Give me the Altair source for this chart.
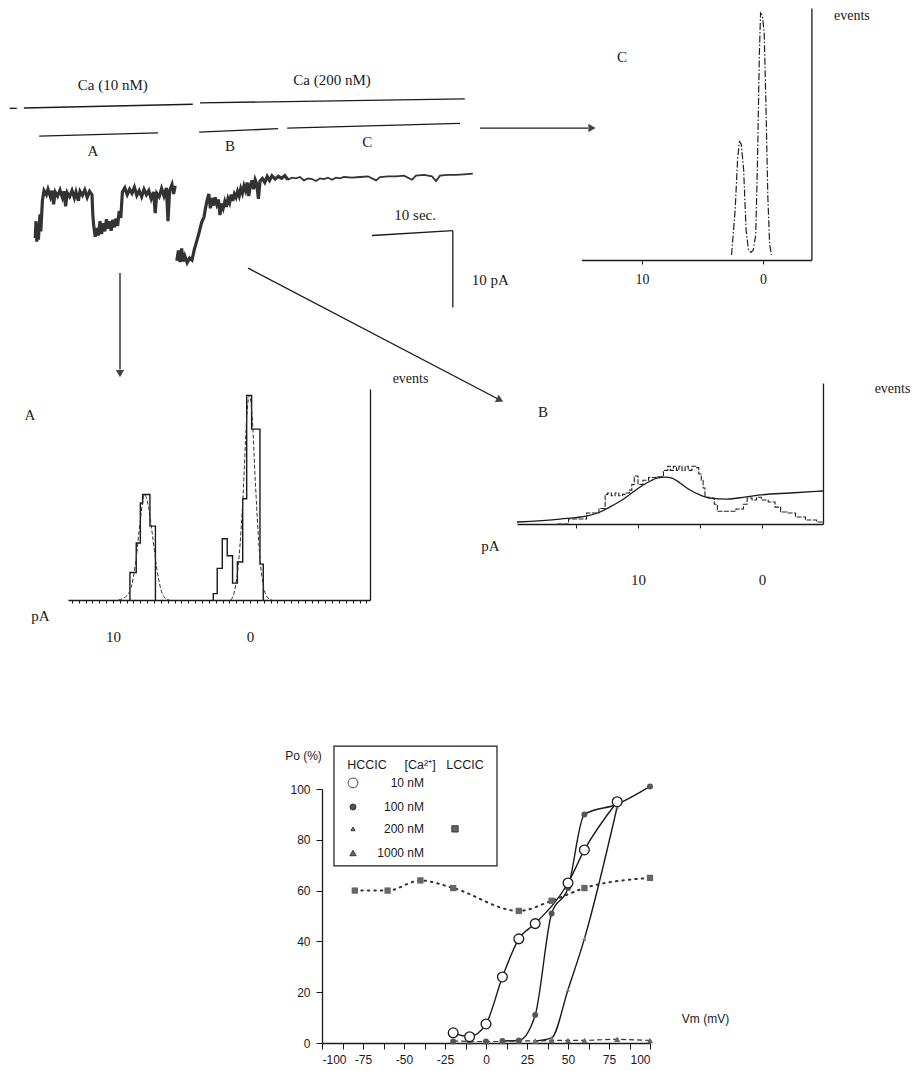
import altair as alt
import pandas as pd

# ---------------- data ----------------
# current trace, segment A (time s, current pA)
trA_t = [1.4, 1.5, 1.6, 1.7, 1.8, 2.0, 2.1, 2.3, 2.5, 2.8, 3.0, 3.3, 3.5, 3.7, 3.9, 4.2, 4.5, 4.8, 5.0, 5.2,
         5.4, 5.7, 6.0, 6.3, 6.5, 6.8, 7.0, 7.3, 7.6, 7.9, 8.2, 8.5, 8.6, 8.7, 8.9, 9.1, 9.3, 9.5, 9.7, 9.9,
         10.1, 10.3, 10.5, 10.7, 10.9, 11.1, 11.3, 11.5, 11.7, 11.9, 12.1, 12.3, 12.6, 12.9, 13.2, 13.5, 13.8,
         14.1, 14.4, 14.7, 15.0, 15.3, 15.6, 15.9, 16.2, 16.4, 16.6, 16.9, 17.2, 17.5, 17.8, 18.0, 18.2, 18.5,
         18.7, 18.9]
trA_i = [-9.0, -6.5, -9.5, -7.0, -9.2, -5.5, -8.0, -3.5, -2.0, -2.6, -1.8, -2.9, -2.0, -4.0, -2.2, -2.8, -1.9,
         -3.0, -2.1, -4.3, -2.3, -2.9, -2.0, -3.1, -2.2, -3.5, -2.1, -2.7, -1.9, -3.0, -2.1, -2.6, -5.5, -7.0,
         -8.8, -7.5, -8.6, -6.5, -8.4, -6.8, -8.0, -6.2, -7.6, -6.5, -7.9, -6.3, -7.4, -6.1, -7.2, -5.0, -6.0,
         -2.2, -1.6, -2.6, -1.8, -2.4, -1.5, -2.7, -2.0, -2.9, -1.8, -2.6, -2.0, -3.2, -2.2, -5.3, -2.4, -2.9,
         -1.7, -2.8, -1.6, -6.5, -2.0, -1.1, -2.5, -1.3]
# segment B, noisy rising part
trB_t = [19.1, 19.3, 19.5, 19.7, 19.9, 20.1, 20.4, 20.7, 21.0, 21.3, 21.6, 21.9, 22.2, 22.5, 22.7, 22.9, 23.1,
         23.3, 23.5, 23.7, 23.9, 24.1, 24.3, 24.5, 24.7, 24.9, 25.1, 25.3, 25.5, 25.7, 25.9, 26.1, 26.3, 26.5,
         26.7, 26.9, 27.1, 27.3, 27.5, 27.7, 27.9, 28.1, 28.3, 28.5, 28.7, 28.9, 29.1, 29.3, 29.5, 29.8, 30.1,
         30.4, 30.7, 31.0, 31.4, 31.8, 32.2, 32.6, 33.0]
trB_i = [-12.3, -10.8, -12.5, -10.5, -12.4, -11.6, -12.6, -11.9, -12.2, -10.6, -9.4, -8.1, -6.7, -5.9, -4.5,
         -3.4, -2.5, -4.6, -3.1, -4.2, -3.0, -4.0, -3.3, -5.6, -3.9, -4.6, -3.6, -4.4, -3.2, -3.8, -2.6, -3.5,
         -2.5, -3.0, -2.1, -2.8, -1.7, -2.4, -1.3, -2.0, -0.8, -2.8, -1.2, -0.5, -1.8, -0.4, -1.0, -3.2, -0.6,
         -0.2, -0.8, 0.1, -0.5, 0.2, -0.3, 0.1, -0.2, 0.2, -0.4]
# segment B/C, flat open part
trC_t = [33.0, 33.5, 34.0, 34.5, 35.0, 35.5, 36.0, 36.5, 37.0, 37.5, 38.0, 38.5, 39.0, 39.5, 40.0, 41.0, 42.0,
         43.0, 44.0, 44.5, 45.5, 46.5, 47.5, 48.5, 49.0, 50.0, 51.0, 51.5, 52.0, 53.0, 54.0, 55.0, 56.1]
trC_i = [-0.4, -0.1, -0.2, 0.0, -0.5, -0.2, -0.3, -0.6, -0.2, -0.3, -0.1, -0.4, -0.1, -0.2, 0.0, -0.1, 0.0,
         0.1, -0.5, 0.0, 0.1, 0.1, 0.2, -0.4, 0.2, 0.3, 0.1, -0.6, 0.2, 0.3, 0.3, 0.4, 0.5]

# condition bars, scale bars and arrows of the trace panel (t1, t2, i1, i2)
seg_t1 = [0.0, 22.0, 1.9, 21.9, 32.9, 43.5, 53.6, 12.0, 28.0, 57.0, -1.8]
seg_t2 = [21.1, 55.1, 16.75, 31.75, 54.5, 53.6, 53.6, 12.0, 59.5, 70.5, -0.9]
seg_i1 = [10.15, 10.9, 6.0, 6.6, 7.2, -8.6, -7.9, -14.1, -13.4, 7.2, 10.1]
seg_i2 = [10.7, 11.5, 6.5, 7.1, 7.9, -7.9, -19.2, -28.3, -32.8, 7.2, 10.1]
head_t = [12.0, 59.5, 71.0]
head_i = [-28.9, -32.8, 7.2]
head_shape = ["triangle-down", "triangle-right", "triangle-right"]
head_angle = [0, 27.6, 0]
trace_labels = ["Ca (10 nM)", "Ca (200 nM)", "A", "B", "C", "10 sec.", "10 pA"]
trace_lab_t = [11.1, 38.5, 8.6, 25.75, 42.9, 48.9, 58.3]
trace_lab_i = [13.5, 14.3, 3.8, 4.6, 5.1, -5.6, -15.1]

# histogram A (pA, events)
hA_edges = [8.76, 8.3, 8.0, 7.83, 7.3, 6.9]
hA_heights = [13, 27, 46, 50, 35]
hA2_edges = [2.68, 2.39, 2.02, 1.66, 1.27, 0.92, 0.53, 0.24, -0.12, -0.73, -0.97]
hA2_heights = [3, 15, 29, 21, 8, 18, 48, 97, 81, 17]
fitA1_i = [9.6, 9.0, 8.6, 8.3, 8.0, 7.7, 7.4, 7.1, 6.8, 6.5, 6.2, 5.9]
fitA1_e = [0, 2, 8, 20, 38, 50, 44, 30, 15, 5, 1, 0]
fitA2_i = [1.4, 1.1, 0.8, 0.5, 0.25, 0.05, -0.15, -0.4, -0.7, -1.0, -1.3, -1.6]
fitA2_e = [0, 5, 20, 50, 85, 97, 88, 55, 22, 6, 1, 0]

# histogram B (pA, events)
hB_i = [16.5, 14.7, 13.6, 12.7, 12.6, 12.3, 12.0, 11.7, 11.4, 11.1, 10.8, 10.6, 10.4, 10.2, 9.8, 9.4, 8.9, 8.2,
        7.7, 7.5, 7.3, 7.0, 6.8, 6.6, 6.3, 6.1, 5.8, 5.5, 5.2, 5.0, 4.8, 4.7, 4.5, 4.0, 3.7, 3.5, 2.6, 1.6, 1.4,
        1.0, 0.6, 0.3, -0.2, -0.8, -1.3, -1.7, -2.3, -3.1, -3.9, -4.9]
hB_e = [0, 3.5, 7.8, 11, 21, 22, 20, 22, 20, 21, 22, 24, 28, 34, 28, 31, 33, 33.5,
        38, 41, 38, 41, 38, 41, 38, 41, 38, 41, 40, 35.5, 31, 25.5, 19, 18.4, 14, 9, 9, 10.6, 14,
        18.4, 17, 19, 17, 15.6, 12, 8.5, 7.8, 5, 2.8, 1.4]
fitB_i = [19.76, 16.29, 14.11, 13.06, 12.26, 11.29, 10.4, 9.44, 8.47, 7.82, 7.26, 6.61, 5.81, 5.0, 4.19,
          2.82, 1.37, 0.16, -2.26, -4.92]
fitB_e = [1.4, 3.5, 5.7, 8.5, 12.1, 17, 22.7, 28.4, 32.6, 33.3, 32.6, 29.1, 24.1, 20.6, 18.4, 17.7, 19.1,
          20.6, 22, 23.4]

# histogram C (pA, events)
hC_i = [2.6, 2.3, 2.1, 1.95, 1.8, 1.6, 1.4, 1.2, 1.0, 0.8, 0.6, 0.45, 0.3, 0.2, 0.05, -0.1, -0.25, -0.4,
        -0.55, -0.7]
hC_e = [2, 20, 40, 47, 46, 36, 12, 4, 3, 4, 10, 40, 82, 98, 97, 90, 60, 25, 6, 2]

# open probability vs voltage
vm10 = [-20, -10, 0, 10, 20, 30, 50, 60, 80]
po10 = [4, 2.5, 7.5, 26, 41, 47, 63, 76, 95]
vm100 = [-20, -10, 0, 10, 20, 30, 40, 50, 60, 80, 100]
po100 = [0.6, 0.6, 0.6, 0.8, 1, 11, 51, 61, 90, 94, 101]
vm200 = [30, 40, 50, 60, 80]
po200 = [0.8, 2, 21, 41, 93]
vm1000 = [-20, -10, 0, 10, 20, 30, 40, 50, 60, 80, 100]
po1000 = [0.8, 0.6, 0.6, 0.6, 0.8, 0.8, 1, 1, 1, 1.5, 1]
vmL = [-80, -60, -40, -20, 20, 40, 60, 100]
poL = [60, 60, 64, 61, 52, 56, 61, 65]

legend_rows = ["10 nM", "100 nM", "200 nM", "1000 nM"]
legend_row_po = [102.4, 92.9, 84.3, 74.8]
legend_head = ["HCCIC", "[Ca²⁺]", "LCCIC"]
legend_head_vm = [-72.6, -40.2, -12.8]

# ---------------- helpers ----------------
SERIF = "Liberation Serif"
SANS = "Liberation Sans"
INK = "#1a1a1a"
H = 1063


def sc(dom, rng):
    return alt.Scale(domain=dom, range=rng, nice=False, zero=False)


# panel scales (plot-area pixel ranges)
TX, TY = sc([0, 100], [16, 816]), sc([-18, 26], [291.4, -7.8])
AX, AY = sc([13.28, -8.76], [60, 362]), sc([0, 100], [592, 381])
BX, BY = sc([19.76, -4.92], [509, 815]), sc([0, 100], [516, 375])
CX, CY = sc([15.0, -4.0], [573.5, 803.4]), sc([0, 100], [252, 0])
PX, PY = sc([-100, 100], [314, 642]), sc([0, 100], [1035, 781])


def ordered(xs, ys):
    return pd.DataFrame({"x": xs, "y": ys, "o": list(range(len(xs)))})


def steps(edges, heights):
    xs, ys = [edges[0]], [0]
    for k, h in enumerate(heights):
        xs += [edges[k], edges[k + 1]]
        ys += [h, h]
    xs.append(edges[-1])
    ys.append(0)
    return ordered(xs, ys)


def line(df, XS, YS, xaxis=None, yaxis=None, **mk):
    return alt.Chart(df).mark_line(**mk).encode(
        x=alt.X("x:Q", scale=XS, axis=xaxis),
        y=alt.Y("y:Q", scale=YS, axis=yaxis),
        order="o:Q",
    )


def texts(labels, xs, ys, XS, YS, **mk):
    df = pd.DataFrame({"x": xs, "y": ys, "t": labels})
    return alt.Chart(df).mark_text(**mk).encode(
        x=alt.X("x:Q", scale=XS, axis=None),
        y=alt.Y("y:Q", scale=YS, axis=None),
        text="t:N",
    )


layers = []

# ---------------- trace panel ----------------
segs = pd.DataFrame({"t1": seg_t1, "t2": seg_t2, "i1": seg_i1, "i2": seg_i2})
layers.append(alt.Chart(segs).mark_rule(color=INK, strokeWidth=1.3).encode(
    x=alt.X("t1:Q", scale=TX, axis=None), x2="t2:Q",
    y=alt.Y("i1:Q", scale=TY, axis=None), y2="i2:Q"))
heads = pd.DataFrame({"t": head_t, "i": head_i, "s": head_shape, "a": head_angle})
layers.append(alt.Chart(heads).mark_point(filled=True, color="#444", size=70, opacity=1).encode(
    x=alt.X("t:Q", scale=TX, axis=None), y=alt.Y("i:Q", scale=TY, axis=None),
    shape=alt.Shape("s:N", scale=None), angle=alt.Angle("a:Q", scale=None)))
layers.append(line(ordered(trA_t, trA_i), TX, TY, color="#333", strokeWidth=3.2))
layers.append(line(ordered(trB_t, trB_i), TX, TY, color="#333", strokeWidth=3.2))
layers.append(line(ordered(trC_t, trC_i), TX, TY, color="#333", strokeWidth=1.8))
layers.append(texts(trace_labels, trace_lab_t, trace_lab_i, TX, TY, font=SERIF, fontSize=15,
                    color=INK, align="center", baseline="middle"))

# ---------------- histogram A ----------------
axA_x = alt.Axis(orient="bottom", offset=592 - H, values=[v / 2 for v in range(26, -18, -1)],
                 labelExpr="datum.value == 10 || datum.value == 0 ? '' + datum.value : ''",
                 tickSize=3, labelPadding=26, labelFont=SERIF, labelFontSize=15, grid=False,
                 title="pA", titleFont=SERIF, titleFontSize=15, titleFontWeight="normal",
                 titleX=32, titleY=15, titleAlign="center", titleBaseline="middle")
axA_y = alt.Axis(orient="right", offset=-546, ticks=False, labels=False, grid=False,
                 title="events", titleFont=SERIF, titleFontSize=14, titleFontWeight="normal",
                 titleAngle=0, titleX=40, titleY=370, titleAlign="center", titleBaseline="middle")
layers.append(line(steps(hA2_edges, hA2_heights), AX, AY, xaxis=axA_x, yaxis=axA_y,
                   color=INK, strokeWidth=1.4))
layers.append(line(steps(hA_edges, hA_heights), AX, AY, color=INK, strokeWidth=1.4))
layers.append(line(ordered(fitA1_i, fitA1_e), AX, AY, color="#333", strokeWidth=1,
                   strokeDash=[4, 2], interpolate="monotone"))
layers.append(line(ordered(fitA2_i, fitA2_e), AX, AY, color="#333", strokeWidth=1,
                   strokeDash=[4, 2], interpolate="monotone"))
layers.append(texts(["A"], [16.06], [87.7], AX, AY, font=SERIF, fontSize=15, color=INK))

# ---------------- histogram B ----------------
axB_x = alt.Axis(orient="bottom", offset=516 - H, values=[15, 10, 5, 0],
                 labelExpr="datum.value == 10 || datum.value == 0 ? '' + datum.value : ''",
                 tickSize=4, labelPadding=44, labelFont=SERIF, labelFontSize=15, grid=False,
                 title="pA", titleFont=SERIF, titleFontSize=15, titleFontWeight="normal",
                 titleX=482, titleY=21, titleAlign="center", titleBaseline="middle")
axB_y = alt.Axis(orient="right", offset=-93, ticks=False, labels=False, grid=False,
                 title="events", titleFont=SERIF, titleFontSize=14, titleFontWeight="normal",
                 titleAngle=0, titleX=69, titleY=380, titleAlign="center", titleBaseline="middle")
layers.append(line(ordered(fitB_i, fitB_e), BX, BY, xaxis=axB_x, yaxis=axB_y, color=INK,
                   strokeWidth=1.3, interpolate="monotone"))
layers.append(line(ordered(hB_i, hB_e), BX, BY, color="#222", strokeWidth=1.1,
                   strokeDash=[5, 1.5], interpolate="step"))
layers.append(texts(["B"], [17.66], [79.4], BX, BY, font=SERIF, fontSize=15, color=INK))

# ---------------- histogram C ----------------
axC_x = alt.Axis(orient="bottom", offset=252 - H, values=[10, 0], tickSize=4, labelPadding=8,
                 labelFont=SERIF, labelFontSize=14, grid=False, title=None)
axC_y = alt.Axis(orient="right", offset=-104.6, ticks=False, labels=False, grid=False,
                 title="events", titleFont=SERIF, titleFontSize=14, titleFontWeight="normal",
                 titleAngle=0, titleX=40, titleY=7, titleAlign="center", titleBaseline="middle")
layers.append(line(ordered(hC_i, hC_e), CX, CY, xaxis=axC_x, yaxis=axC_y, color="#222",
                   strokeWidth=1.2, strokeDash=[7, 2, 1.5, 2]))
layers.append(texts(["C"], [11.65], [80.6], CX, CY, font=SERIF, fontSize=15, color=INK))

# ---------------- Po vs Vm ----------------
axP_x = alt.Axis(orient="bottom", offset=1035 - H, values=[v * 12.5 for v in range(-8, 9)],
                 labelExpr="datum.value % 25 == 0 ? '' + datum.value : ''",
                 tickSize=6, labelPadding=5, labelFont=SANS, labelFontSize=12, grid=False,
                 title="Vm (mV)", titleFont=SANS, titleFontSize=12, titleFontWeight="normal",
                 titleX=697, titleY=-25, titleAlign="center", titleBaseline="middle")
axP_y = alt.Axis(orient="left", offset=-314, values=[0, 20, 40, 60, 80, 100], tickSize=6,
                 labelPadding=6, labelFont=SANS, labelFontSize=12, grid=False,
                 title="Po (%)", titleFont=SANS, titleFontSize=12, titleFontWeight="normal",
                 titleAngle=0, titleX=-19, titleY=747, titleAlign="center", titleBaseline="middle")

po = pd.DataFrame({"x": vm10, "y": po10, "o": range(len(vm10))})
p100 = pd.DataFrame({"x": vm100, "y": po100, "o": range(len(vm100))})
p200 = pd.DataFrame({"x": vm200, "y": po200, "o": range(len(vm200))})
p1000 = pd.DataFrame({"x": vm1000, "y": po1000, "o": range(len(vm1000))})
pL = pd.DataFrame({"x": vmL, "y": poL, "o": range(len(vmL))})

layers.append(line(po, PX, PY, xaxis=axP_x, yaxis=axP_y, color=INK, strokeWidth=1.4,
                   interpolate="monotone"))
layers.append(line(p100, PX, PY, color=INK, strokeWidth=1.4, interpolate="monotone")
              .transform_filter("datum.x >= 10"))
layers.append(line(p200, PX, PY, color=INK, strokeWidth=1.4, interpolate="monotone"))
layers.append(line(p1000, PX, PY, color="#333", strokeWidth=1.2, strokeDash=[5, 3]))
layers.append(line(pL, PX, PY, color="#333", strokeWidth=2, strokeDash=[1.5, 5],
                   strokeCap="round", interpolate="monotone"))


def pts(df, **mk):
    return alt.Chart(df).mark_point(opacity=1, **mk).encode(
        x=alt.X("x:Q", scale=PX, axis=None), y=alt.Y("y:Q", scale=PY, axis=None))


layers.append(pts(pL, shape="square", filled=True, color="#666", size=40))
layers.append(pts(p1000, shape="triangle-up", filled=True, color="#666", size=40))
layers.append(pts(p200, shape="triangle-up", filled=True, color="#777", size=18))
layers.append(pts(p100, shape="circle", filled=True, color="#555", size=36))
layers.append(pts(po, shape="circle", filled=True, fill="white", stroke=INK, strokeWidth=1.3,
                  size=95))

# legend box and entries
box = pd.DataFrame({"x": [-92.7], "x2": [6.7], "y": [69.7], "y2": [116.9]})
layers.append(alt.Chart(box).mark_rect(fillOpacity=0, stroke=INK, strokeWidth=1.2).encode(
    x=alt.X("x:Q", scale=PX, axis=None), x2="x2:Q",
    y=alt.Y("y:Q", scale=PY, axis=None), y2="y2:Q"))
layers.append(texts(legend_head, legend_head_vm, [109.4] * 3, PX, PY, font=SANS, fontSize=12.5,
                    color=INK, align="center", baseline="middle"))
layers.append(texts(legend_rows, [-37.8] * 4, legend_row_po, PX, PY, font=SANS, fontSize=12,
                    color=INK, align="right", baseline="middle"))
legsym = pd.DataFrame({"x": [-81.1] * 4 + [-18.9], "y": legend_row_po + [84.3],
                       "s": ["circle", "circle", "triangle-up", "triangle-up", "square"],
                       "f": ["white", "#555", "#777", "#666", "#666"],
                       "sz": [95, 36, 18, 40, 40]})
layers.append(alt.Chart(legsym).mark_point(filled=True, opacity=1, stroke=INK, strokeWidth=0.8).encode(
    x=alt.X("x:Q", scale=PX, axis=None), y=alt.Y("y:Q", scale=PY, axis=None),
    shape=alt.Shape("s:N", scale=None), fill=alt.Fill("f:N", scale=None),
    size=alt.Size("sz:Q", scale=None)))

chart = alt.layer(*layers).resolve_scale(x="independent", y="independent").resolve_axis(
    x="independent", y="independent").properties(
    width=908, height=H, autosize=alt.AutoSizeParams(type="none"), padding=0,
    background="white").configure_view(strokeWidth=0).configure_axis(
    domainColor=INK, tickColor=INK, labelColor=INK, titleColor=INK, domainWidth=1.3)

chart.save("out.html", embed_options={"renderer": "svg", "actions": False})
